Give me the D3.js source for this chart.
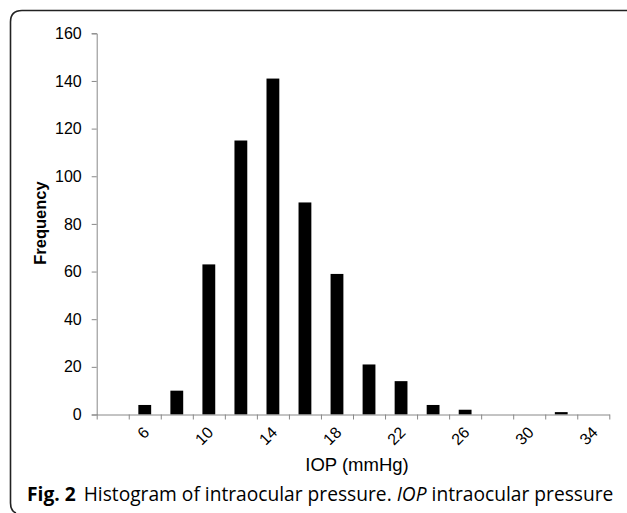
<!DOCTYPE html>
<html><head><meta charset="utf-8">
<script src="https://cdn.jsdelivr.net/npm/d3@7"></script>
<style>body{margin:0;background:#fff}svg{display:block}</style>
</head><body>
<svg id="c" width="627" height="513"></svg>
<script>
const categories = [4,6,8,10,12,14,16,18,20,22,24,26,28,30,32,34];
const frequencies = [0,4,10,63,115,141,89,59,21,14,4,2,0,0,1,0];
const xTickLabels = [6,10,14,18,22,26,30,34];
const yTicks = [0,20,40,60,80,100,120,140,160];

const svg = d3.select("#c");
// frame
svg.append("path")
  .attr("d","M627,10.5 H22 Q10.5,10.5 10.5,22 V503 Q10.5,511 16,513")
  .attr("fill","none").attr("stroke","#222").attr("stroke-width",1.6);

const x = d3.scaleLinear().domain([3,35]).range([96.7,609.3]);
const y = d3.scaleLinear().domain([0,160]).range([414.5,33.3]);
const bw = (x(5)-x(3))*0.4;

svg.append("g").selectAll("rect").data(categories).join("rect")
  .attr("x",(d)=>x(d)-bw/2).attr("width",bw)
  .attr("y",(d,i)=>y(frequencies[i])).attr("height",(d,i)=>y(0)-y(frequencies[i]))
  .attr("fill","#000");

const font = "'Liberation Sans', Arial, sans-serif";
const yAxis = svg.append("g").attr("transform",`translate(${x(3)},0)`)
  .call(d3.axisLeft(y).tickValues(yTicks).tickSize(5).tickPadding(10));
yAxis.selectAll("text").attr("font-family",font).attr("font-size",16).attr("fill","#000");
yAxis.selectAll("line,path").attr("stroke","#888");

const oddTicks = d3.range(3,36,2);
const xAxis = svg.append("g").attr("transform",`translate(0,${y(0)})`)
  .call(d3.axisBottom(x).tickValues(oddTicks).tickSize(5).tickSizeOuter(0).tickFormat(""));
xAxis.selectAll("line,path").attr("stroke","#888");

svg.append("g").selectAll("text").data(xTickLabels).join("text")
  .attr("transform",d=>`translate(${x(d)+1.5},${y(0)+15}) rotate(-45)`)
  .attr("text-anchor","end").attr("dy","0.35em")
  .attr("font-family",font).attr("font-size",16).attr("fill","#000")
  .text(d=>d);

svg.append("text").attr("x",357).attr("y",471).attr("text-anchor","middle")
  .attr("font-family",font).attr("font-size",18.5).attr("fill","#000").text("IOP (mmHg)");

svg.append("text").attr("transform","translate(46,223) rotate(-90)").attr("text-anchor","middle")
  .attr("font-family",font).attr("font-size",16.5).attr("font-weight","bold").attr("fill","#000").text("Frequency");

const cap = svg.append("text").attr("x",27).attr("y",501)
  .attr("font-family","'Open Sans', sans-serif").attr("font-size",19.2).attr("fill","#000");
cap.append("tspan").attr("font-weight","bold").text("Fig. 2");
cap.append("tspan").attr("dx",8).text("Histogram of intraocular pressure. ");
cap.append("tspan").attr("font-style","italic").text("IOP");
cap.append("tspan").text(" intraocular pressure");
</script>
</body></html>
